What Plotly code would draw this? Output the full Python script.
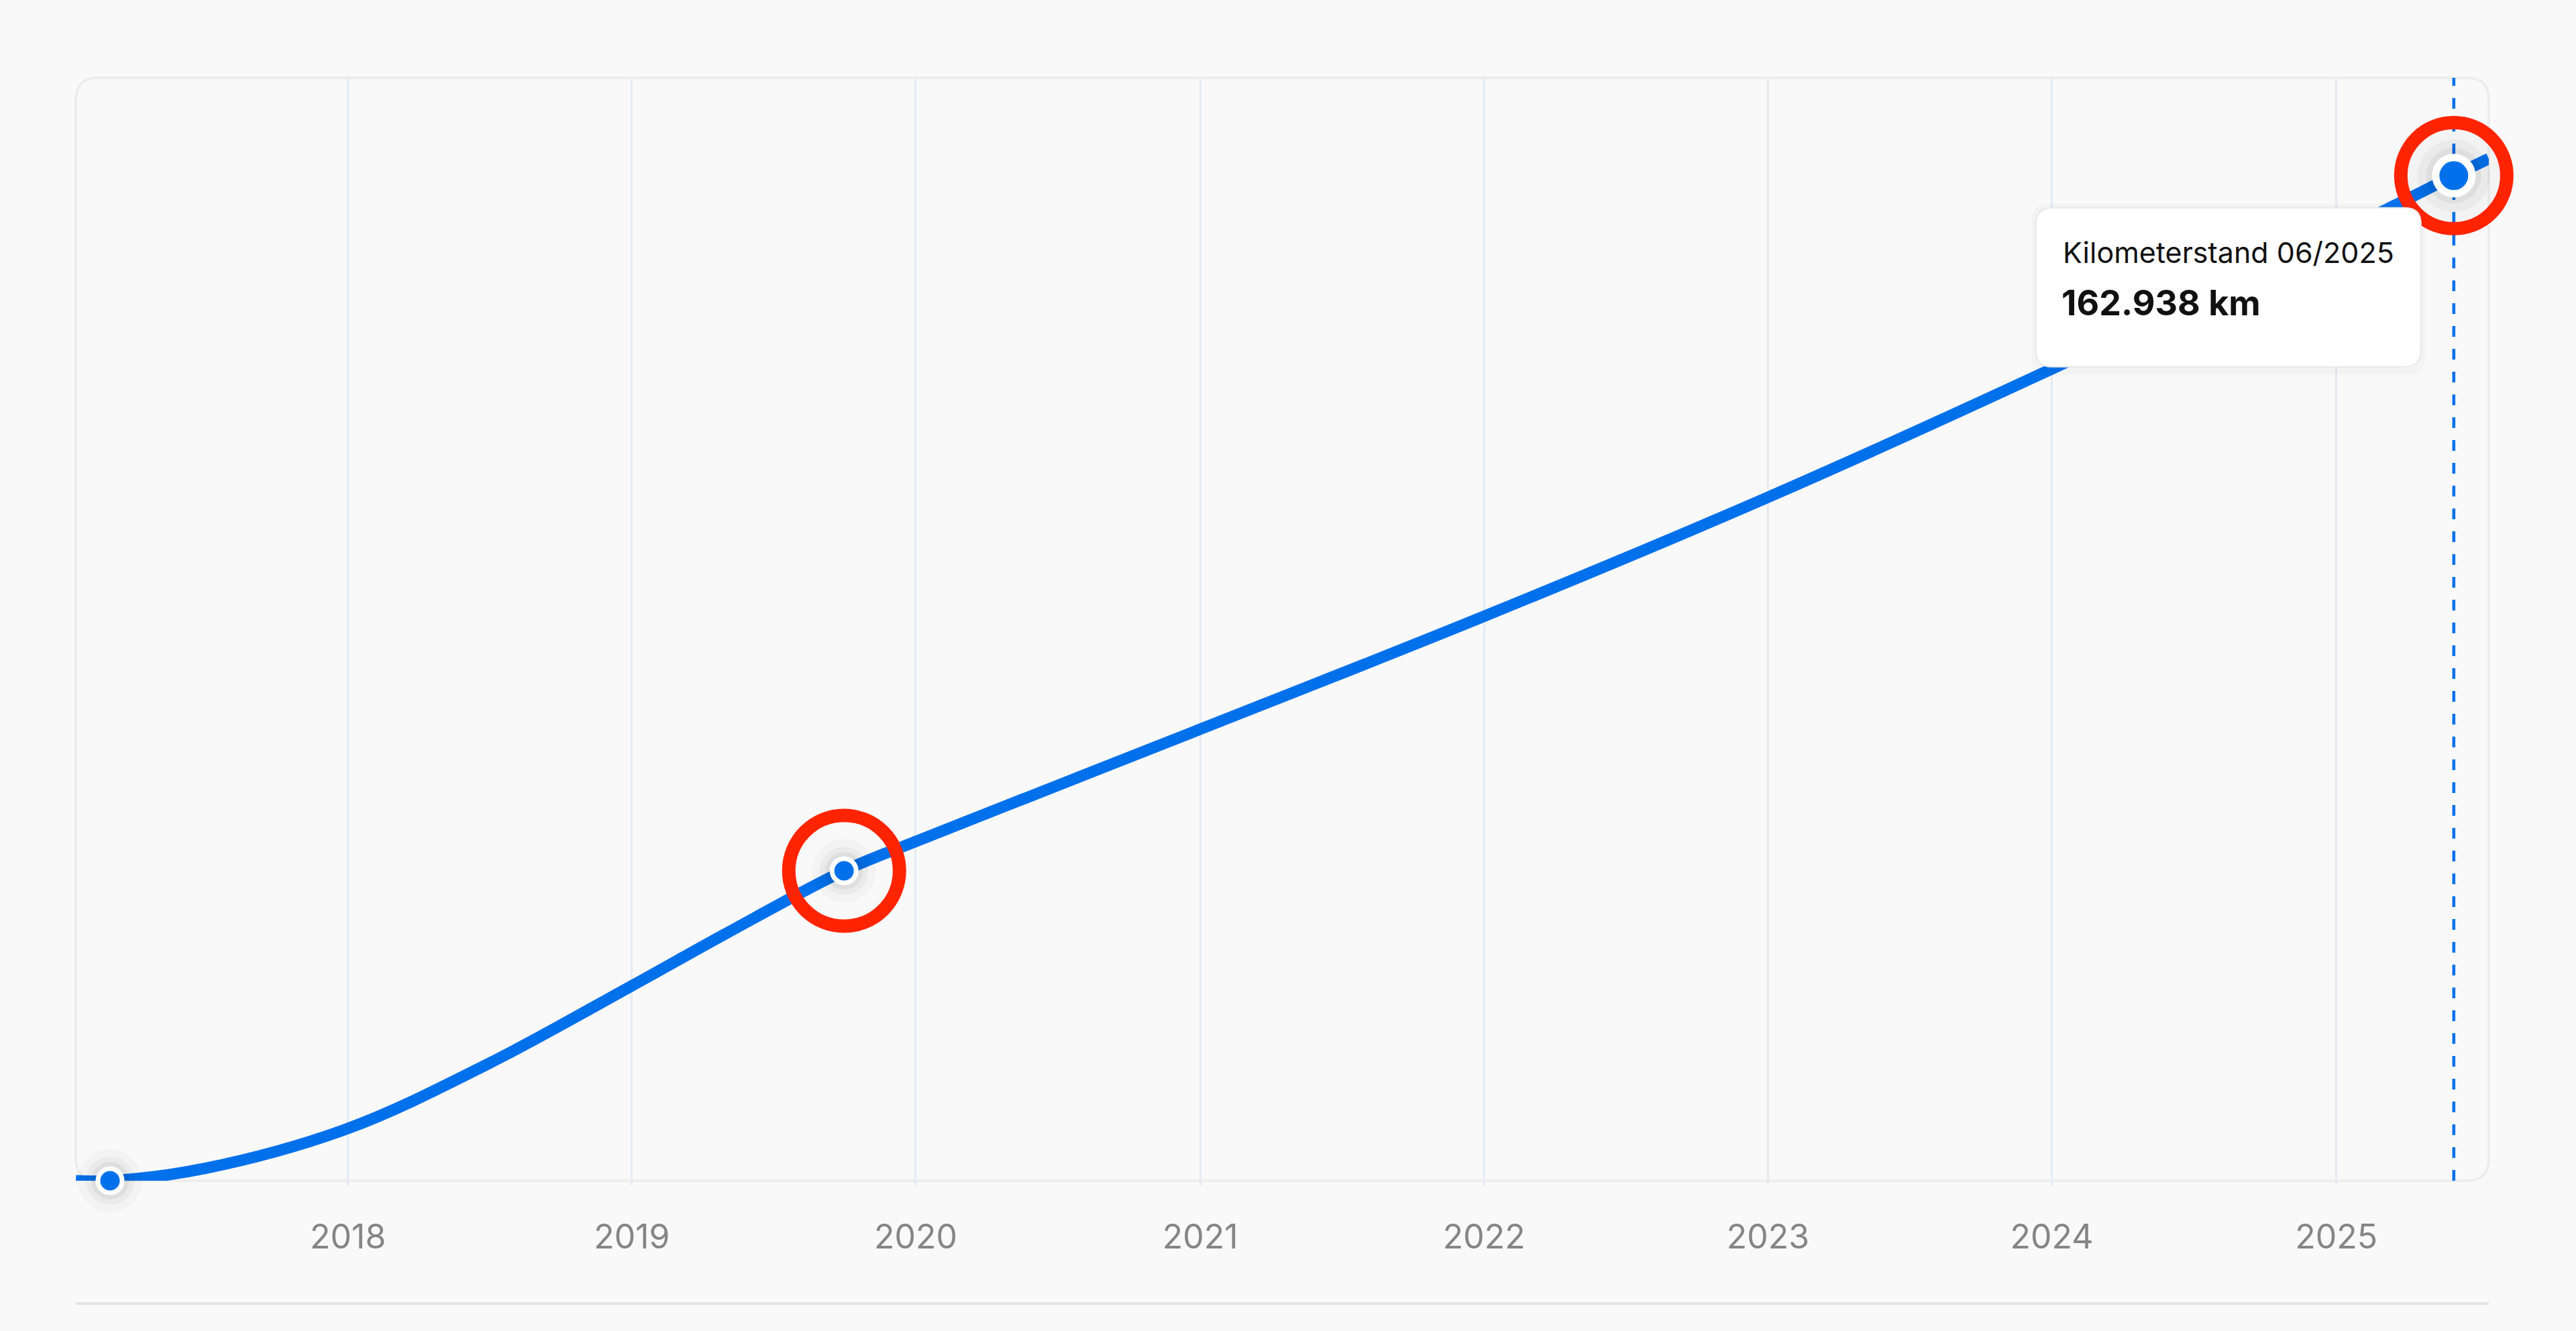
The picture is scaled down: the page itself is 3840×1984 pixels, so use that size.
import plotly.graph_objects as go

# odometer readings
dates = ['2017-01-16', '2017-03-01', '2017-07-01', '2018-01-01', '2018-07-01',
         '2019-01-01', '2019-05-01', '2019-10-01', '2020-01-01', '2021-01-01',
         '2022-01-01', '2023-01-01', '2024-01-01', '2025-03-15', '2025-06-01',
         '2025-07-16']
km = [0, 0, 2000, 8480, 19000,
      31600, 40000, 50250, 55000, 73200,
      91500, 110800, 131600, 158000, 162938,
      165700]

# highlighted readings (first, mid, current)
marker_dates = ['2017-03-01', '2019-10-01', '2025-06-01']
marker_km = [0, 50250, 162938]

current_label = 'Kilometerstand 06/2025'
x_range = ['2017-01-16', '2025-07-16']
y_range = [0, 178800]

blue = '#0070EB'
red = '#FF2400'
bg = '#F9F9F9'

W, H = 3840, 1984
ml, mr, mt, mb = 113, 130, 116, 224
pw, ph = W - ml - mr, H - mt - mb


def rounded_path(x0, y0, x1, y1, rx, ry):
    return (f'M {x0+rx},{y1} L {x1-rx},{y1} Q {x1},{y1} {x1},{y1-ry} '
            f'L {x1},{y0+ry} Q {x1},{y0} {x1-rx},{y0} L {x0+rx},{y0} '
            f'Q {x0},{y0} {x0},{y0+ry} L {x0},{y1-ry} Q {x0},{y1} {x0+rx},{y1} Z')


fig = go.Figure()

fig.add_trace(go.Scatter(x=dates, y=km, mode='lines', line=dict(color=blue, width=17, shape='spline', smoothing=1),
                         cliponaxis=False, hoverinfo='skip', showlegend=False))

# soft shadows behind the points
sizes_small = [95, 72, 56]
sizes_big = [140, 108, 82]
for i, a in enumerate([0.025, 0.035, 0.05]):
    fig.add_trace(go.Scatter(x=marker_dates[:2], y=marker_km[:2], mode='markers', cliponaxis=False,
                             marker=dict(size=sizes_small[i], color=f'rgba(0,0,0,{a})', line=dict(width=0)),
                             hoverinfo='skip', showlegend=False))
    fig.add_trace(go.Scatter(x=marker_dates[2:], y=marker_km[2:], mode='markers', cliponaxis=False,
                             marker=dict(size=sizes_big[i], color=f'rgba(0,0,0,{a})', line=dict(width=0)),
                             hoverinfo='skip', showlegend=False))

fig.add_trace(go.Scatter(x=marker_dates[:2], y=marker_km[:2], mode='markers', cliponaxis=False,
                         marker=dict(size=36, color=blue, line=dict(color='white', width=7)),
                         showlegend=False))
fig.add_trace(go.Scatter(x=marker_dates[2:], y=marker_km[2:], mode='markers', cliponaxis=False,
                         marker=dict(size=54, color=blue, line=dict(color='white', width=11)),
                         showlegend=False))

# red highlight rings
for d, v, s in [(marker_dates[1], marker_km[1], 165), (marker_dates[2], marker_km[2], 158)]:
    fig.add_trace(go.Scatter(x=[d], y=[v], mode='markers', cliponaxis=False,
                             marker=dict(symbol='circle-open', size=s, color=red, opacity=1,
                                         line=dict(color=red, width=20)),
                             hoverinfo='skip', showlegend=False))

shapes = []
# rounded plot frame
rx, ry = 33 / pw, 33 / ph
shapes.append(dict(type='path', xref='paper', yref='paper', layer='below',
                   path=rounded_path(0, 0, 1, 1, rx, ry),
                   line=dict(color='#ECECEC', width=3.5), fillcolor=bg))
# bottom separator
shapes.append(dict(type='line', xref='paper', yref='paper', x0=0, x1=1,
                   y0=-(1943 - (H - mb)) / ph, y1=-(1943 - (H - mb)) / ph,
                   line=dict(color='#E4E4E4', width=4)))
# current date crosshair
shapes.append(dict(type='line', xref='x', yref='paper', x0=marker_dates[2], x1=marker_dates[2], y0=0, y1=1,
                   layer='between', line=dict(color=blue, width=4.5, dash='16px,18px')))
# tooltip box, anchored to the current point in pixels
for off, col, lc in [(6, 'rgba(0,0,0,0.025)', 'rgba(0,0,0,0)'), (0, 'white', '#E8E8E8')]:
    shapes.append(dict(type='path', xref='x', yref='y', xsizemode='pixel', ysizemode='pixel',
                       xanchor=marker_dates[2], yanchor=marker_km[2], layer='above',
                       path=rounded_path(-623 - off, -285 - off - off, -49 + off, -48 + off, 24, 24),
                       fillcolor=col, line=dict(color=lc, width=2)))

value_txt = f'{marker_km[2]:,}'.replace(',', '.') + ' km'
annotations = [
    dict(x=marker_dates[2], y=marker_km[2], xref='x', yref='y', text=current_label, showarrow=False,
         xanchor='left', yanchor='middle', xshift=-585, yshift=-114,
         font=dict(family='Inter', size=43, color='#111111')),
    dict(x=marker_dates[2], y=marker_km[2], xref='x', yref='y', text=f'<b>{value_txt}</b>', showarrow=False,
         xanchor='left', yanchor='middle', xshift=-587, yshift=-190,
         font=dict(family='Inter', size=52, color='#111111')),
]

fig.update_layout(
    width=W, height=H,
    margin=dict(l=ml, r=mr, t=mt, b=mb),
    paper_bgcolor=bg, plot_bgcolor='rgba(0,0,0,0)',
    font=dict(family='Inter', color='#858585'),
    shapes=shapes, annotations=annotations,
    showlegend=False,
)
fig.update_xaxes(type='date', range=x_range, tick0='2018-01-01', dtick='M12', tickformat='%Y',
                 showgrid=True, gridcolor='#E3EBF5', gridwidth=3, zeroline=False, showline=False,
                 ticks='outside', ticklen=6, tickwidth=3, tickcolor='#E3EBF5',
                 tickfont=dict(family='Inter', size=50, color='#858585'), ticklabelstandoff=34)
fig.update_yaxes(range=y_range, showgrid=False, zeroline=False, showline=False, showticklabels=False)

fig.write_html('out.html', config={'displayModeBar': False}, post_script="document.body.style.margin='0';")
